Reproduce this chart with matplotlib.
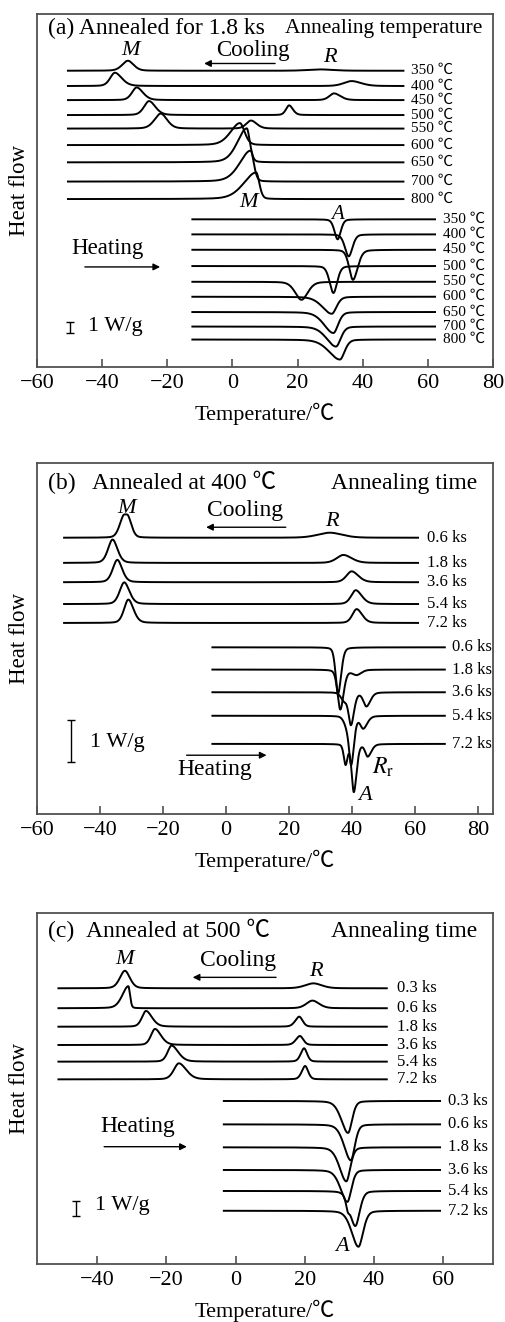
import matplotlib.pyplot as plt
import numpy as np

plt.rcParams["font.family"] = ["Liberation Serif", "Noto Sans CJK SC"]
plt.rcParams["mathtext.fontset"] = "stix"

# peaks: (temperature, height in W/g, left width, right width)
# cooling peaks point up (exothermic), heating peaks are drawn down

# (a) annealed for 1.8 ks at several temperatures
a_labels = ["350 ℃", "400 ℃", "450 ℃", "500 ℃", "550 ℃",
            "600 ℃", "650 ℃", "700 ℃", "800 ℃"]
a_cool_base = [26.94, 25.55, 24.27, 22.91, 21.68, 20.18, 18.61, 16.86, 15.27]
a_cool_peaks = [
    [(-32.1, 0.91, 1.8, 1.8), (27.0, 0.12, 4.0, 4.0)],
    [(-36.1, 1.21, 1.5, 2.2), (36.6, 0.45, 2.5, 3.0)],
    [(-29.4, 1.15, 1.5, 2.0), (31.2, 0.61, 1.5, 2.0)],
    [(-25.6, 1.27, 1.6, 2.0), (17.4, 0.88, 1.0, 1.2)],
    [(-22.0, 1.36, 2.0, 2.0), (5.7, 0.73, 1.5, 1.8)],
    [(2.3, 2.00, 3.0, 1.5)],
    [(4.4, 3.09, 3.0, 1.0)],
    [(5.6, 2.82, 3.5, 1.0)],
    [(7.3, 2.42, 4.0, 1.0)],
]
a_heat_base = [13.43, 12.06, 10.66, 9.18, 7.75, 6.39, 5.00, 3.68, 2.50]
a_heat_peaks = [
    [(32.3, 1.82, 1.0, 1.0)],
    [(35.7, 2.00, 1.2, 1.2)],
    [(37.0, 2.73, 1.2, 1.5)],
    [(31.0, 2.45, 1.2, 1.2)],
    [(21.2, 1.64, 2.0, 2.0)],
    [(30.5, 1.55, 3.0, 1.5)],
    [(31.0, 1.91, 3.0, 1.5)],
    [(31.8, 1.82, 3.0, 1.5)],
    [(33.0, 1.82, 3.5, 1.5)],
]

# (b) annealed at 400 C for several times
b_labels = ["0.6 ks", "1.8 ks", "3.6 ks", "5.4 ks", "7.2 ks"]
b_cool_base = [6.58, 5.98, 5.52, 5.00, 4.55]
b_cool_peaks = [
    [(-32.7, 0.42, 1.3, 1.0), (-31.0, 0.42, 1.0, 1.2), (33.0, 0.12, 4.0, 4.0)],
    [(-36.0, 0.557, 1.5, 1.6), (37.3, 0.19, 2.2, 2.7)],
    [(-34.5, 0.533, 1.5, 1.6), (39.9, 0.26, 1.7, 2.2)],
    [(-32.3, 0.517, 1.5, 1.7), (41.2, 0.33, 1.5, 2.0)],
    [(-31.0, 0.557, 1.4, 1.7), (41.5, 0.33, 1.4, 1.8)],
]
b_heat_base = [3.97, 3.44, 2.90, 2.34, 1.67]
b_heat_peaks = [
    [(35.6, 1.10, 0.8, 1.0)],
    [(36.3, 0.95, 0.9, 1.1), (41.5, 0.12, 1.5, 1.5)],
    [(37.5, 0.19, 1.0, 1.0), (39.7, 0.76, 0.8, 1.0), (44.6, 0.33, 1.0, 1.3)],
    [(38.5, 0.24, 1.0, 1.0), (39.8, 1.07, 0.7, 0.9), (43.6, 0.29, 1.0, 1.3)],
    [(38.0, 0.48, 0.6, 0.6), (40.6, 1.14, 0.7, 0.9), (45.0, 0.29, 0.8, 1.2)],
]

# (c) annealed at 500 C for several times
c_labels = ["0.3 ks", "0.6 ks", "1.8 ks", "3.6 ks", "5.4 ks", "7.2 ks"]
c_cool_base = [18.38, 17.05, 15.82, 14.60, 13.49, 12.31]
c_cool_peaks = [
    [(-32.0, 1.17, 1.5, 1.5), (22.5, 0.33, 2.5, 2.5)],
    [(-31.0, 1.47, 1.8, 0.5), (22.2, 0.51, 1.8, 2.0)],
    [(-25.9, 1.05, 1.2, 1.8), (18.4, 0.67, 1.2, 1.0)],
    [(-23.3, 1.07, 1.2, 1.8), (18.6, 0.60, 1.2, 1.0)],
    [(-18.5, 1.07, 1.2, 2.0), (19.8, 0.89, 1.0, 0.9)],
    [(-16.4, 1.07, 1.5, 2.2), (20.1, 0.89, 1.0, 0.9)],
]
c_heat_base = [10.87, 9.31, 7.78, 6.27, 4.87, 3.55]
c_heat_peaks = [
    [(32.5, 2.13, 2.0, 1.2)],
    [(33.3, 2.40, 2.0, 1.2)],
    [(32.0, 2.27, 2.0, 1.2)],
    [(32.3, 2.13, 2.0, 1.2)],
    [(32.4, 0.53, 0.5, 0.5), (34.6, 2.33, 1.6, 1.3)],
    [(35.5, 2.40, 2.0, 1.4)],
]

GREY = "#505050"


def curve(x, base, peaks, sign, eta=0.3):
    y = np.full_like(x, base)
    for t0, h, wl, wr in peaks:
        u = (x - t0) / np.where(x < t0, wl, wr)
        y += sign * h * ((1 - eta) * np.exp(-0.5 * u**2) + eta / (1 + u**2))
    return y


def panel(ax, xlim, ylim, ticks, cool, heat, labels, fs_lab):
    (cx, cbase, cpeaks, clx), (hx, hbase, hpeaks, hlx) = cool, heat
    xc = np.linspace(cx[0], cx[1], 1500)
    xh = np.linspace(hx[0], hx[1], 1500)
    for base, pk, lab in zip(cbase, cpeaks, labels):
        ax.plot(xc, curve(xc, base, pk, 1), "k-", lw=1.4)
        ax.text(clx, base, lab, fontsize=fs_lab, va="center", ha="left")
    for base, pk, lab in zip(hbase, hpeaks, labels):
        ax.plot(xh, curve(xh, base, pk, -1), "k-", lw=1.4)
        ax.text(hlx, base, lab, fontsize=fs_lab, va="center", ha="left")
    ax.set_xlim(*xlim)
    ax.set_ylim(*ylim)
    ax.set_xticks(ticks)
    ax.set_yticks([])
    ax.tick_params(axis="x", direction="in", length=6, width=1.2,
                   color=GREY, labelsize=16, pad=5)
    for s in ax.spines.values():
        s.set_color(GREY)
        s.set_linewidth(1.3)
    ax.set_xlabel("Temperature/℃", fontsize=16, labelpad=7)
    ax.set_ylabel("Heat flow", fontsize=16.5)
    ax.yaxis.set_label_coords(-0.016, 0.5)


def arrow(ax, x0, x1, y):
    ax.annotate("", xy=(x1, y), xytext=(x0, y),
                arrowprops=dict(arrowstyle="-|>", lw=1.0, color="k",
                                mutation_scale=10, shrinkA=0, shrinkB=0))


def scalebar(ax, x, y0, y1, tx, ty):
    ax.errorbar([x], [(y0 + y1) / 2], yerr=[(y1 - y0) / 2], fmt="none",
                ecolor="k", elinewidth=1.0, capsize=3, capthick=1.0)
    ax.text(tx, ty, "1 W/g", fontsize=16, va="center", ha="left")


fig = plt.figure(figsize=(5.05, 13.22), dpi=100)
W, H = 505, 1322

# ---- (a)
ax = fig.add_axes([37 / W, 1 - 367 / H, 456 / W, 353 / H])
panel(ax, (-60, 80), (0, 32.1), range(-60, 81, 20),
      ((-50.5, 52.5), a_cool_base, a_cool_peaks, 54.8),
      ((-12.3, 62.2), a_heat_base, a_heat_peaks, 64.7),
      a_labels, 11)
ax.text(-56.7, 30.8, "(a) Annealed for 1.8 ks", fontsize=17, va="center")
ax.text(76.6, 30.8, "Annealing temperature", fontsize=15.5, va="center", ha="right")
ax.text(-31.4, 28.8, "M", fontsize=16, style="italic", ha="center", va="center")
ax.text(6.3, 28.8, "Cooling", fontsize=16.5, ha="center", va="center")
arrow(ax, 13.1, -8.7, 27.6)
ax.text(30.0, 28.1, "R", fontsize=16, style="italic", ha="center", va="center")
ax.text(4.8, 15.0, "M", fontsize=16, style="italic", ha="center", va="center")
ax.text(32.4, 13.9, "A", fontsize=15, style="italic", ha="center", va="center")
ax.text(-38.4, 10.8, "Heating", fontsize=16.5, ha="center", va="center")
arrow(ax, -45.3, -22.2, 9.1)
scalebar(ax, -49.9, 3.09, 4.09, -44.3, 3.64)

# ---- (b)
ax = fig.add_axes([37 / W, 1 - 814 / H, 456 / W, 351 / H])
panel(ax, (-60, 84.8), (0, 8.36), range(-60, 81, 20),
      ((-51.4, 61.0), b_cool_base, b_cool_peaks, 64.0),
      ((-4.3, 69.5), b_heat_base, b_heat_peaks, 71.7),
      b_labels, 12)
ax.text(-56.5, 7.88, "(b)", fontsize=17, va="center")
ax.text(-42.6, 7.88, "Annealed at 400 ℃", fontsize=17, va="center")
ax.text(79.8, 7.88, "Annealing time", fontsize=17, va="center", ha="right")
ax.text(-31.5, 7.28, "M", fontsize=16, style="italic", ha="center", va="center")
ax.text(6.0, 7.24, "Cooling", fontsize=17, ha="center", va="center")
arrow(ax, 19.0, -6.3, 6.83)
ax.text(33.6, 6.96, "R", fontsize=16, style="italic", ha="center", va="center")
scalebar(ax, -49.2, 1.24, 2.24, -43.2, 1.71)
arrow(ax, -12.5, 12.9, 1.40)
ax.text(-3.5, 1.05, "Heating", fontsize=17, ha="center", va="center")
ax.text(49.8, 1.12, r"$R_\mathrm{r}$", fontsize=17, ha="center", va="center")
ax.text(44.1, 0.45, "A", fontsize=16, style="italic", ha="center", va="center")

# ---- (c)
ax = fig.add_axes([37 / W, 1 - 1264 / H, 456 / W, 351 / H])
panel(ax, (-57.4, 74.4), (0, 23.4), range(-40, 61, 20),
      ((-51.2, 43.7), c_cool_base, c_cool_peaks, 46.6),
      ((-3.4, 59.1), c_heat_base, c_heat_peaks, 61.5),
      c_labels, 12)
ax.text(-54.2, 22.15, "(c)", fontsize=17, va="center")
ax.text(-43.2, 22.15, "Annealed at 500 ℃", fontsize=17, va="center")
ax.text(69.9, 22.15, "Annealing time", fontsize=17, va="center", ha="right")
ax.text(-32.0, 20.27, "M", fontsize=16, style="italic", ha="center", va="center")
ax.text(0.8, 20.22, "Cooling", fontsize=17, ha="center", va="center")
arrow(ax, 11.7, -12.4, 19.11)
ax.text(23.2, 19.49, "R", fontsize=16, style="italic", ha="center", va="center")
ax.text(-28.4, 9.15, "Heating", fontsize=17, ha="center", va="center")
arrow(ax, -38.0, -14.1, 7.82)
scalebar(ax, -46.1, 3.2, 4.2, -40.6, 3.93)
ax.text(30.7, 1.15, "A", fontsize=16, style="italic", ha="center", va="center")

fig.savefig("out.png", dpi=100)
